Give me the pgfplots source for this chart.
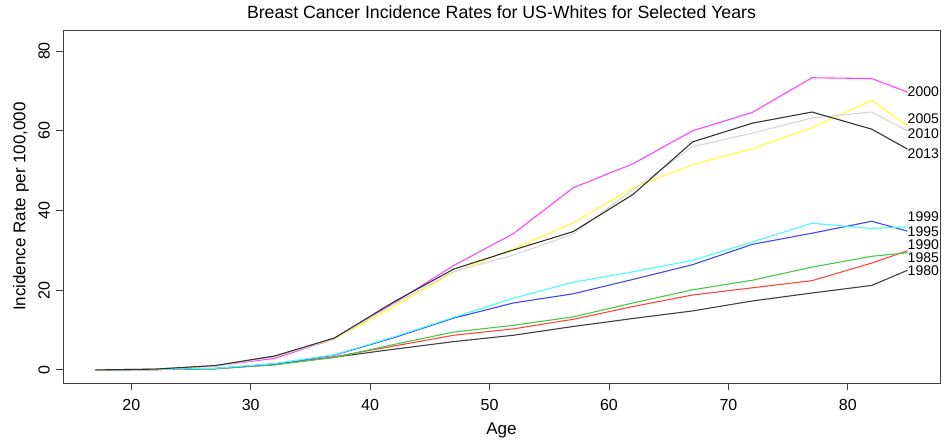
\documentclass[border=0pt]{standalone}
\usepackage{pgfplots}
\usepackage{pgfplotstable}
\pgfplotsset{compat=1.18}
\usepackage{fontspec}
\setmainfont{Liberation Sans}

\definecolor{c1980}{HTML}{404040}
\definecolor{c1985}{HTML}{FF4444}
\definecolor{c1990}{HTML}{44CC44}
\definecolor{c1995}{HTML}{4444FF}
\definecolor{c1999}{HTML}{44FFFF}
\definecolor{c2000}{HTML}{FF44FF}
\definecolor{c2005}{HTML}{FFFF33}
\definecolor{c2010}{HTML}{D6D6D6}
\definecolor{c2013}{HTML}{333333}

% incidence per 100,000 by age group midpoint
\pgfplotstableread{
age  y1980 y1985 y1990 y1995 y1999 y2000 y2005 y2010 y2013
17   0.0   0.0   0.0   0.0   0.0   0.0   0.0   0.0   0.0
22   0.1   0.1   0.1   0.1   0.1   0.2   0.2   0.2   0.2
27   0.3   0.3   0.3   0.4   0.4   1.0   1.0   1.0   1.1
32   1.4   1.3   1.3   1.5   1.6   2.9   3.3   3.3   3.5
37   3.2   3.3   3.1   3.7   3.8   7.8   7.8   7.9   8.0
42   5.2   6.0   6.4   8.1   8.3   16.8  15.9  16.5  17.1
47   7.1   8.7   9.5   13.0  13.2  26.2  24.5  24.7  25.3
52   8.7   10.3  11.2  16.8  18.0  34.2  30.4  28.8  30.1
57   10.9  12.7  13.3  19.1  22.0  45.7  36.9  34.1  34.7
62   12.9  15.9  16.8  22.7  24.6  51.7  45.7  45.2  44.0
67   14.8  18.8  20.1  26.4  27.5  60.0  51.5  56.0  57.2
72   17.3  20.6  22.5  31.5  32.1  64.6  55.5  59.4  61.9
77   19.3  22.4  25.8  34.3  36.8  73.3  60.8  63.2  64.7
82   21.2  26.8  28.5  37.3  35.5  73.1  67.6  64.7  60.4
85   25.0  29.9  29.4  34.8  35.9  69.7  61.2  60.0  55.4
}\rates

\begin{document}
\begin{tikzpicture}
\useasboundingbox (0,0) rectangle (944pt,445pt);
\begin{axis}[
  at={(63pt,62pt)}, anchor=south west,
  scale only axis, width=877pt, height=353pt,
  xmin=14.28, xmax=87.72, ymin=-3.28, ymax=85.28,
  xtick={20,30,...,80}, ytick={0,20,...,80},
  xtick pos=bottom, ytick pos=left,
  tick align=outside, major tick length=7pt,
  axis line style={black!75, line width=0.9pt},
  every tick/.style={black!75, line width=0.9pt},
  /pgf/number format/assume math mode=true,
  tick label style={font=\fontsize{16}{18}\selectfont},
  xticklabel style={anchor=north, inner sep=0pt, yshift=-9pt},
  yticklabel style={rotate=90, anchor=south, inner sep=0pt, yshift=6pt},
  title={Breast Cancer Incidence Rates for US-Whites for Selected Years},
  title style={at={(axis description cs:0.5,1)}, anchor=center, yshift=12pt,
    font=\fontsize{17.7}{19}\selectfont},
  xlabel={Age},
  xlabel style={at={(axis description cs:0.5,0)}, anchor=center, yshift=-47pt,
    font=\fontsize{17}{19}\selectfont},
  ylabel={Incidence Rate per 100,000},
  ylabel style={at={(axis description cs:0,0.5)}, anchor=center, yshift=42pt,
    font=\fontsize{17}{19}\selectfont},
  every axis plot/.append style={line width=1.1pt, mark=none},
]
\addplot[c1980] table[x=age, y=y1980] {\rates};
\addplot[c1985] table[x=age, y=y1985] {\rates};
\addplot[c1990] table[x=age, y=y1990] {\rates};
\addplot[c1995] table[x=age, y=y1995] {\rates};
\addplot[c1999] table[x=age, y=y1999] {\rates};
\addplot[c2000] table[x=age, y=y2000] {\rates};
\addplot[c2005] table[x=age, y=y2005] {\rates};
\addplot[c2010] table[x=age, y=y2010] {\rates};
\addplot[c2013] table[x=age, y=y2013] {\rates};

\begin{scope}[every node/.style={anchor=west, inner sep=0pt, font=\fontsize{14}{16}\selectfont}]
\node at (axis cs:85,69.7) {2000};
\node at (axis cs:85,63.0) {2005};
\node at (axis cs:85,59.25) {2010};
\node at (axis cs:85,54.25) {2013};
\node at (axis cs:85,38.4) {1999};
\node at (axis cs:85,34.7) {1995};
\node at (axis cs:85,31.5) {1990};
\node at (axis cs:85,28.2) {1985};
\node at (axis cs:85,24.9) {1980};
\end{scope}
\end{axis}
\end{tikzpicture}
\end{document}
